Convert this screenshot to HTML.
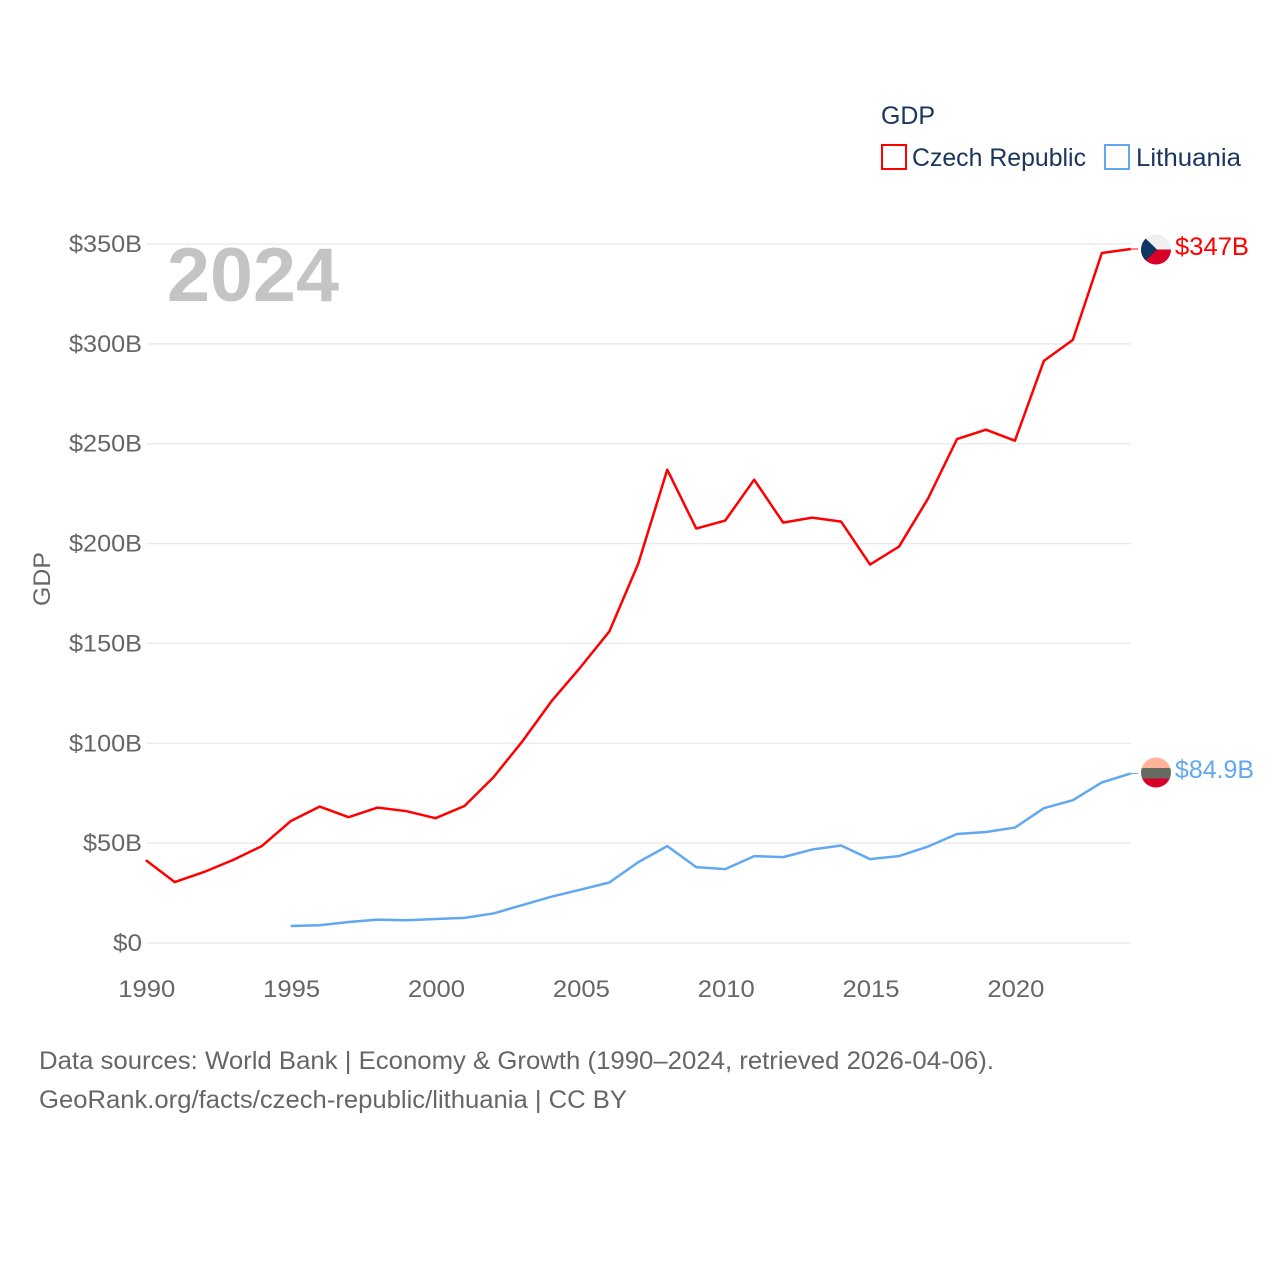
<!DOCTYPE html>
<html lang="en">
<head>
<meta charset="utf-8">
<title>GDP: Czech Republic and Lithuania</title>
<style>
html,body{margin:0;padding:0;background:#fff;}
svg{display:block;}
text{font-family:"Liberation Sans",sans-serif;}
</style>
</head>
<body>
<svg id="chart" xmlns="http://www.w3.org/2000/svg" width="1280" height="1280" viewBox="0 0 1280 1280">
  <rect width="1280" height="1280" fill="#fff"/>
  <g id="grid"></g>
  <g id="yticks"></g>
  <g id="xticks"></g>
  <text x="167" y="301" font-size="76" font-weight="700" fill="#c4c4c4" textLength="172" lengthAdjust="spacingAndGlyphs">2024</text>
  <text transform="translate(50,606) rotate(-90)" font-size="24" fill="#666" textLength="54" lengthAdjust="spacingAndGlyphs">GDP</text>
  <g id="series"></g>

  <g>
    <text x="881" y="124" font-size="25" fill="#1a3560" textLength="54" lengthAdjust="spacingAndGlyphs">GDP</text>
    <g>
      <rect x="882" y="145" width="24" height="24" fill="#fff" stroke="#ff0000" stroke-width="2"/>
      <text x="912" y="166" font-size="25" fill="#1a3560" textLength="174" lengthAdjust="spacingAndGlyphs">Czech Republic</text>
    </g>
    <g>
      <rect x="1105" y="145" width="24" height="24" fill="#fff" stroke="#62a8f0" stroke-width="2"/>
      <text x="1136" y="166" font-size="25" fill="#1a3560" textLength="105" lengthAdjust="spacingAndGlyphs">Lithuania</text>
    </g>
  </g>

  <defs>
    <clipPath id="clip-cz"><circle cx="1156" cy="249.5" r="15"/></clipPath>
    <clipPath id="clip-lt"><circle cx="1156" cy="772.5" r="15"/></clipPath>
  </defs>
  <g clip-path="url(#clip-cz)">
    <rect x="1141" y="234" width="30" height="15.5" fill="#f0f0f0"/>
    <rect x="1141" y="249.5" width="30" height="16" fill="#d80027"/>
    <polygon points="1141,234 1157,249.5 1141,265" fill="#0f3560"/>
  </g>
  <g clip-path="url(#clip-lt)">
    <rect x="1141" y="757" width="30" height="11" fill="#ffb39b"/>
    <rect x="1141" y="768" width="30" height="10.5" fill="#666b64"/>
    <rect x="1141" y="778.5" width="30" height="10" fill="#d80027"/>
  </g>
  <text x="1175" y="255" font-size="25" fill="#ff0000" textLength="74" lengthAdjust="spacingAndGlyphs">$347B</text>
  <text x="1175" y="778" font-size="25" fill="#62a8f0" textLength="79" lengthAdjust="spacingAndGlyphs">$84.9B</text>

  <text x="39" y="1069" font-size="25" fill="#666" textLength="955" lengthAdjust="spacingAndGlyphs">Data sources: World Bank | Economy &amp; Growth (1990–2024, retrieved 2026-04-06).</text>
  <text x="39" y="1108" font-size="25" fill="#666" textLength="588" lengthAdjust="spacingAndGlyphs">GeoRank.org/facts/czech-republic/lithuania | CC BY</text>
</svg>
<script>
const yTickValues = [0, 50, 100, 150, 200, 250, 300, 350];
const yTickLabels = ["$0", "$50B", "$100B", "$150B", "$200B", "$250B", "$300B", "$350B"];
const xTickYears = [1990, 1995, 2000, 2005, 2010, 2015, 2020];
const czechStartYear = 1990;
const czechGdp = [41.5, 30.5, 35.5, 41.5, 48.5, 61, 68.3, 63, 67.8, 66, 62.5, 68.6, 83, 101, 121, 138, 156, 190, 237, 207.5, 211.5, 232, 210.5, 213, 211, 189.5, 198.5, 222.5, 252.3, 257, 251.5, 291.5, 302, 345.5, 347.5];
const lithuaniaStartYear = 1995;
const lithuaniaGdp = [8.5, 8.9, 10.5, 11.7, 11.4, 12, 12.6, 14.8, 19, 23.2, 26.7, 30.3, 40.5, 48.5, 38, 37, 43.5, 43, 46.8, 48.8, 42, 43.5, 48.3, 54.6, 55.6, 57.8, 67.5, 71.5, 80.4, 84.9];

const NS = "http://www.w3.org/2000/svg";
const xScale = function (year) { return 145.8 + (year - 1990) * (1130.8 - 145.8) / 34; };
const yScale = function (v) { return 943 - v * (943 - 244) / 350; };

function make(tag, parent, attrs, content) {
  const el = document.createElementNS(NS, tag);
  Object.keys(attrs).forEach(function (k) { el.setAttribute(k, attrs[k]); });
  if (content !== undefined) el.textContent = content;
  parent.appendChild(el);
  return el;
}

const gridGroup = document.getElementById("grid");
const yTickGroup = document.getElementById("yticks");
const xTickGroup = document.getElementById("xticks");
const seriesGroup = document.getElementById("series");

yTickValues.forEach(function (v, i) {
  const line = make("line", gridGroup, { x1: 146.5, x2: 1131, y1: yScale(v), y2: yScale(v), stroke: "#ebebeb", "stroke-width": 1.5 });
  
  
  const label = yTickLabels[i];
  const width = label.length === 2 ? 29 : label.length === 4 ? 59 : 73;
  const text = make("text", yTickGroup, { x: 142, y: yScale(v) + 8, "text-anchor": "end", "font-size": 24, fill: "#666", textLength: width, lengthAdjust: "spacingAndGlyphs" }, label);
  
  
});

xTickYears.forEach(function (year) {
  const text = make("text", xTickGroup, { x: xScale(year) + 1, y: 997, "text-anchor": "middle", "font-size": 24, fill: "#666", textLength: 57, lengthAdjust: "spacingAndGlyphs" }, String(year));
  
  
});

function pointsFor(values, startYear) {
  return values.map(function (v, i) { return xScale(startYear + i).toFixed(2) + "," + yScale(v).toFixed(2); }).join(" ");
}

const czechLine = make("polyline", seriesGroup, { points: pointsFor(czechGdp, czechStartYear), fill: "none", stroke: "#ff0000", "stroke-width": 2.5, "stroke-linejoin": "round" });



const lithuaniaLine = make("polyline", seriesGroup, { points: pointsFor(lithuaniaGdp, lithuaniaStartYear), fill: "none", stroke: "#62a8f0", "stroke-width": 2.5, "stroke-linejoin": "round" });



const czechLast = czechGdp[czechGdp.length - 1];
const czechConnector = make("line", seriesGroup, { x1: xScale(2024), x2: 1138, y1: yScale(czechLast), y2: yScale(czechLast), stroke: "#ff0000", "stroke-width": 1 });



const lithuaniaLast = lithuaniaGdp[lithuaniaGdp.length - 1];
const lithuaniaConnector = make("line", seriesGroup, { x1: xScale(2024), x2: 1138, y1: yScale(lithuaniaLast), y2: yScale(lithuaniaLast), stroke: "#62a8f0", "stroke-width": 1 });


</script>
</body>
</html>
